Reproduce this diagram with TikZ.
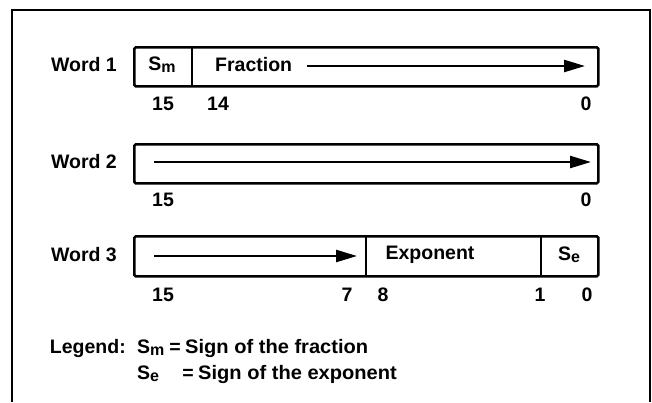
\documentclass[tikz,border=0pt]{standalone}
\usepackage{fontspec}
\setmainfont{Liberation Sans}
\usetikzlibrary{arrows.meta}
\newcommand{\subm}[1]{S\raisebox{-0.22ex}{\fontsize{16}{17}\selectfont #1}}
\begin{document}
\begin{tikzpicture}[x=1pt,y=-1pt,
  box/.style={draw, line width=2.6pt, rounded corners=1.5pt, inner sep=0pt, anchor=north west},
  txt/.style={font=\fontsize{19.5}{21}\selectfont\bfseries, inner sep=0pt},
  arr/.style={line width=2.4pt, -{Triangle[length=21pt,width=12pt]}},
  divline/.style={line width=2.6pt},
]
\useasboundingbox (0,0) rectangle (652,402);
\draw[line width=2pt] (12,402) -- (12,10) -- (650,10) -- (650,402);

% Word 1
\node[txt, anchor=east] (l1) at (117,65) {Word 1};
\node[box, minimum width=464pt, minimum height=39pt] (w1) at (133,46) {};
\draw[divline] (192,46) -- (192,85);
\node[txt] (sm) at (162,65) {\subm{m}};
\node[txt, anchor=west] (frac) at (215,65) {Fraction};
\coordinate (a1s) at (307,66);
\coordinate (a1e) at (585,66);
\draw[arr] (a1s) -- (a1e);
\node[txt] (n115) at (163,104) {15};
\node[txt] (n114) at (218,104) {14};
\node[txt] (n10) at (586,104) {0};

% Word 2
\node[txt, anchor=east] (l2) at (117,162) {Word 2};
\node[box, minimum width=464pt, minimum height=39pt] (w2) at (133,143) {};
\coordinate (a2s) at (154,162);
\coordinate (a2e) at (591,162);
\draw[arr] (a2s) -- (a2e);
\node[txt] (n215) at (163,200) {15};
\node[txt] (n20) at (586,200) {0};

% Word 3
\node[txt, anchor=east] (l3) at (117,255) {Word 3};
\node[box, minimum width=464pt, minimum height=40pt] (w3) at (133,235) {};
\draw[divline] (366,235) -- (366,275);
\draw[divline] (541,235) -- (541,275);
\coordinate (a3s) at (154,256);
\coordinate (a3e) at (357,256);
\draw[arr] (a3s) -- (a3e);
\node[txt] (exp) at (430,255) {Exponent};
\node[txt] (se) at (569,255) {\subm{e}};
\node[txt] (n315) at (163,295) {15};
\node[txt] (n37) at (347,295) {7};
\node[txt] (n38) at (383,295) {8};
\node[txt] (n31) at (540,295) {1};
\node[txt] (n30) at (587,295) {0};

% Legend
\node[txt, anchor=east] (leg) at (126,348) {Legend:};
\node[txt, anchor=west] (lsm) at (137,348) {\subm{m}};
\node[txt] (leq1) at (175,348) {=};
\node[txt, anchor=west] (ltx1) at (185,348) {\scalebox{1.03}[1]{Sign of the fraction}};
\node[txt, anchor=west] (lse) at (137,374) {\subm{e}};
\node[txt] (leq2) at (188,374) {=};
\node[txt, anchor=west] (ltx2) at (198,374) {\scalebox{1.03}[1]{Sign of the exponent}};
\end{tikzpicture}
\end{document}
